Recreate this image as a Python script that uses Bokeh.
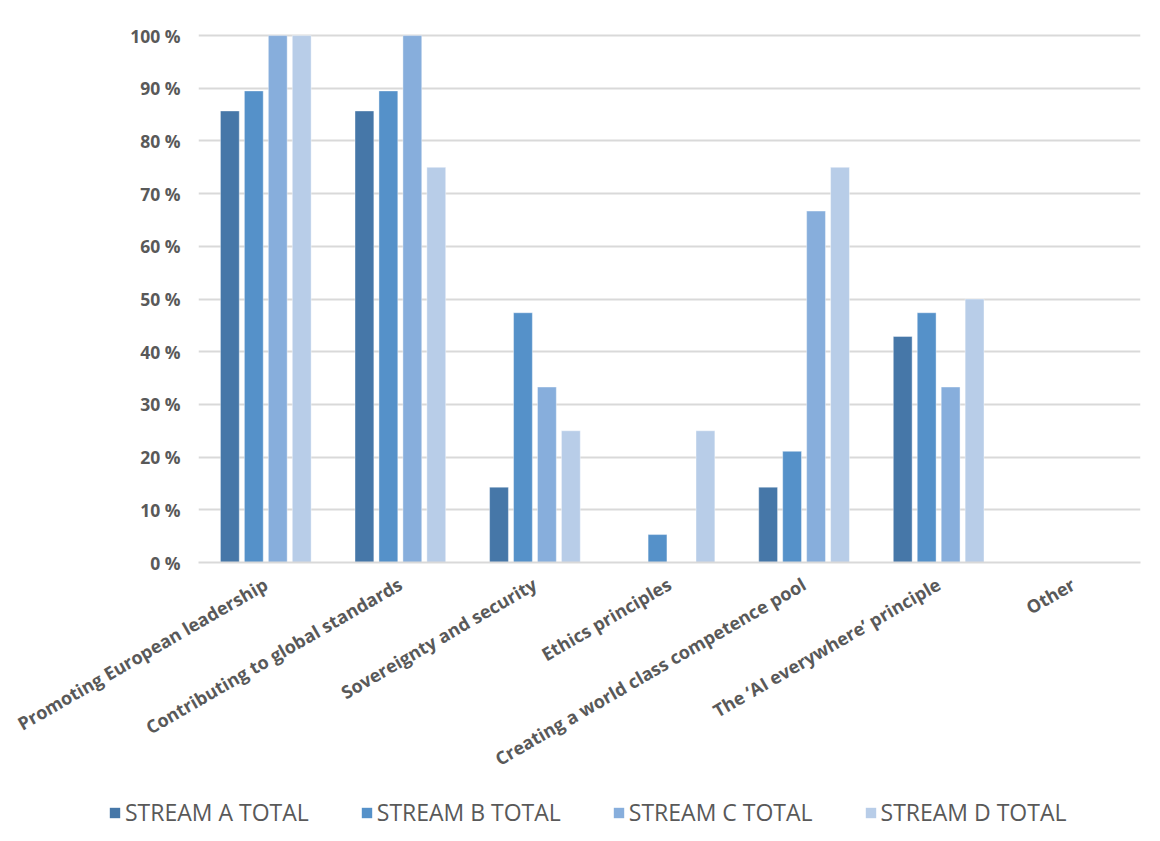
from bokeh.plotting import figure
from bokeh.models import FactorRange, Range1d, PrintfTickFormatter, Legend, LegendItem, FixedTicker
from bokeh.layouts import column, row
from bokeh.transform import dodge
from bokeh.embed import file_html
from bokeh.resources import INLINE
import math

categories = ["Promoting European leadership", "Contributing to global standards",
              "Sovereignty and security", "Ethics principles",
              "Creating a world class competence pool",
              "The \u2018AI everywhere\u2019 principle", "Other"]
stream_a = [85.7, 85.7, 14.3, 0, 14.3, 42.9, 0]
stream_b = [89.5, 89.5, 47.4, 5.3, 21.1, 47.4, 0]
stream_c = [100, 100, 33.3, 0, 66.7, 33.3, 0]
stream_d = [100, 75, 25, 25, 75, 50, 0]
series_names = ["STREAM A TOTAL", "STREAM B TOTAL", "STREAM C TOTAL", "STREAM D TOTAL"]
colors = ["#4677a8", "#5591c9", "#87aedc", "#b8cde8"]
y_ticks = [0, 10, 20, 30, 40, 50, 60, 70, 80, 90, 100]

data = dict(cat=categories, a=stream_a, b=stream_b, c=stream_c, d=stream_d)

p = figure(x_range=FactorRange(*categories, range_padding=0), y_range=Range1d(0, 100.4),
           width=1150, height=785, output_backend="svg", toolbar_location=None,
           min_border_left=198, min_border_right=10, min_border_top=33, min_border_bottom=223)
p.outline_line_color = None
p.background_fill_color = "white"

offsets = [-0.267, -0.089, 0.089, 0.267]
for key, off, col in zip(["a", "b", "c", "d"], offsets, colors):
    p.vbar(x=dodge("cat", off, range=p.x_range), top=key, width=0.14, source=data,
           fill_color=col, line_color="#ffffff", line_alpha=0.4, line_width=1)

p.xgrid.grid_line_color = None
p.ygrid.grid_line_color = "#d9d9d9"
p.ygrid.grid_line_width = 2
p.yaxis.ticker = FixedTicker(ticks=y_ticks)
p.yaxis.formatter = PrintfTickFormatter(format="%d %%")
p.yaxis.axis_line_color = None
p.yaxis.major_tick_line_color = None
p.yaxis.minor_tick_line_color = None
p.yaxis.major_label_text_font = "Open Sans"
p.yaxis.major_label_text_font_style = "bold"
p.yaxis.major_label_text_font_size = "17.5px"
p.yaxis.major_label_text_color = "#595959"
p.yaxis.major_label_standoff = 12

p.xaxis.axis_line_color = "#d9d9d9"
p.xaxis.axis_line_width = 2
p.xaxis.major_tick_line_color = None
p.xaxis.minor_tick_line_color = None
p.xaxis.major_label_orientation = math.pi / 6
p.xaxis.major_label_text_font = "Open Sans"
p.xaxis.major_label_text_font_style = "bold"
p.xaxis.major_label_text_font_size = "18px"
p.xaxis.major_label_text_color = "#595959"
p.xaxis.major_label_standoff = 14

# legend in its own strip below the chart
lf = figure(width=1150, height=48, output_backend="svg", toolbar_location=None,
            x_range=Range1d(0, 1), y_range=Range1d(0, 1),
            min_border_left=0, min_border_right=0, min_border_top=0, min_border_bottom=0)
lf.axis.visible = False
lf.grid.visible = False
lf.outline_line_color = None
legend_renderers = []
for col in colors:
    legend_renderers.append(lf.vbar(x=[5], top=[1], width=0.1, fill_color=col, line_color=None))

legend = Legend(items=[LegendItem(label=n, renderers=[r]) for n, r in zip(series_names, legend_renderers)],
                orientation="horizontal", location=(108, 5))
legend.label_text_font = "Open Sans"
legend.label_text_font_size = "23px"
legend.label_text_color = "#595959"
legend.glyph_width = 13
legend.glyph_height = 13
legend.spacing = 51
legend.label_standoff = 4
legend.border_line_color = None
legend.background_fill_alpha = 0
legend.margin = 0
legend.padding = 6
lf.add_layout(legend, "center")

layout = column(p, row(lf), spacing=0)
open("out.html", "w").write(file_html(layout, INLINE))
